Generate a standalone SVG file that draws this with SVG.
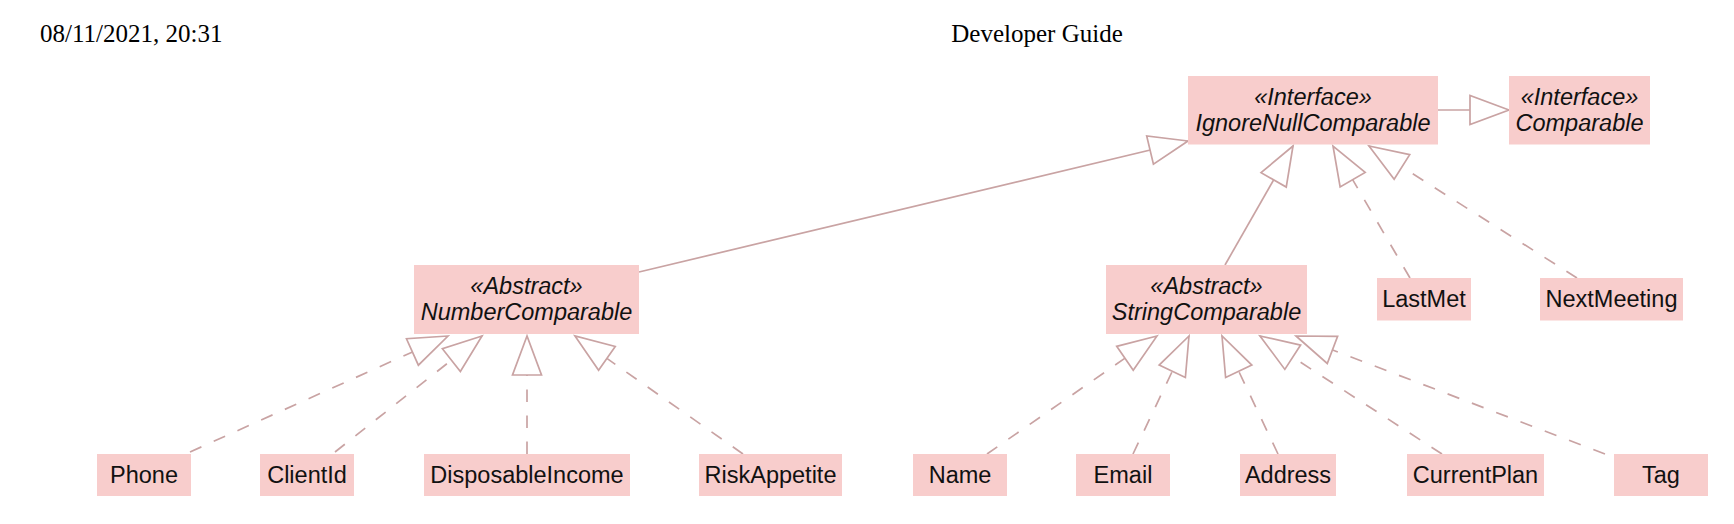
<svg xmlns="http://www.w3.org/2000/svg" width="1734" height="524" viewBox="0 0 1734 524">
<style>
.hdr{font-family:"Liberation Serif","Times New Roman",serif;font-size:25px;fill:#000}
.box{fill:#F8CDCC;stroke:none}
.t{font-family:"Liberation Sans",Arial,sans-serif;font-size:23.5px;fill:#111;text-anchor:middle}
.i{font-style:italic}
.c{fill:none;stroke:#C9A3A3;stroke-width:1.7}
.d{stroke-dasharray:12.5 13.5}
</style>
<defs>
<marker id="tri" markerUnits="userSpaceOnUse" markerWidth="46" markerHeight="36" viewBox="-43 -18 46 36" refX="0" refY="0" orient="auto">
<path d="M0,0 L-39,-14.5 L-39,14.5 Z" fill="#fff" stroke="#C9A3A3" stroke-width="1.7" stroke-linejoin="miter"/>
</marker>
</defs>
<rect width="1734" height="524" fill="#fff"/>
<text class="hdr" x="40" y="42">08/11/2021, 20:31</text>
<text class="hdr" x="1037" y="42" text-anchor="middle">Developer Guide</text>
<g id="connectors">
<path class="c" d="M639,272 L1188,141" marker-end="url(#tri)"/>
<path class="c" d="M1225,265 L1293,146" marker-end="url(#tri)"/>
<path class="c" d="M1438,110 L1509,110" marker-end="url(#tri)"/>
<path class="c d" d="M1410,278 L1333,146" marker-end="url(#tri)"/>
<path class="c d" d="M1577,278 L1369,146" marker-end="url(#tri)"/>
<path class="c d" d="M190,452 L448,336" marker-end="url(#tri)"/>
<path class="c d" d="M335,452 L482,336" marker-end="url(#tri)"/>
<path class="c d" d="M527,454 L527,336" marker-end="url(#tri)"/>
<path class="c d" d="M743,454 L575,336" marker-end="url(#tri)"/>
<path class="c d" d="M987,454 L1157,336" marker-end="url(#tri)"/>
<path class="c d" d="M1133,454 L1189,336" marker-end="url(#tri)"/>
<path class="c d" d="M1278,454 L1222,336" marker-end="url(#tri)"/>
<path class="c d" d="M1442,454 L1260,336" marker-end="url(#tri)"/>
<path class="c d" d="M1605,454 L1296,336" marker-end="url(#tri)"/>
</g>
<g id="IgnoreNullComparable">
<rect class="box" x="1188" y="76" width="250" height="68.5"/>
<text class="t i" x="1313" y="104.5">«Interface»</text>
<text class="t i" x="1313" y="130.5">IgnoreNullComparable</text>
</g>
<g id="Comparable">
<rect class="box" x="1509" y="76" width="141" height="68.5"/>
<text class="t i" x="1579.5" y="104.5">«Interface»</text>
<text class="t i" x="1579.5" y="130.5">Comparable</text>
</g>
<g id="NumberComparable">
<rect class="box" x="414" y="265" width="225" height="69"/>
<text class="t i" x="526.5" y="293.5">«Abstract»</text>
<text class="t i" x="526.5" y="319.5">NumberComparable</text>
</g>
<g id="StringComparable">
<rect class="box" x="1106" y="265" width="201" height="69"/>
<text class="t i" x="1206.5" y="293.5">«Abstract»</text>
<text class="t i" x="1206.5" y="319.5">StringComparable</text>
</g>
<g id="LastMet">
<rect class="box" x="1377" y="278" width="94" height="42.5"/>
<text class="t" x="1424" y="307">LastMet</text>
</g>
<g id="NextMeeting">
<rect class="box" x="1540" y="278" width="143" height="42.5"/>
<text class="t" x="1611.5" y="307">NextMeeting</text>
</g>
<g id="Phone">
<rect class="box" x="97" y="454" width="94" height="42"/>
<text class="t" x="144" y="483">Phone</text>
</g>
<g id="ClientId">
<rect class="box" x="260" y="454" width="94" height="42"/>
<text class="t" x="307" y="483">ClientId</text>
</g>
<g id="DisposableIncome">
<rect class="box" x="424" y="454" width="206" height="42"/>
<text class="t" x="527" y="483">DisposableIncome</text>
</g>
<g id="RiskAppetite">
<rect class="box" x="699" y="454" width="143" height="42"/>
<text class="t" x="770.5" y="483">RiskAppetite</text>
</g>
<g id="Name">
<rect class="box" x="913" y="454" width="94" height="42"/>
<text class="t" x="960" y="483">Name</text>
</g>
<g id="Email">
<rect class="box" x="1076" y="454" width="94" height="42"/>
<text class="t" x="1123" y="483">Email</text>
</g>
<g id="Address">
<rect class="box" x="1240" y="454" width="96" height="42"/>
<text class="t" x="1288" y="483">Address</text>
</g>
<g id="CurrentPlan">
<rect class="box" x="1407" y="454" width="137" height="42"/>
<text class="t" x="1475.5" y="483">CurrentPlan</text>
</g>
<g id="Tag">
<rect class="box" x="1614" y="454" width="94" height="42"/>
<text class="t" x="1661" y="483">Tag</text>
</g>
</svg>
